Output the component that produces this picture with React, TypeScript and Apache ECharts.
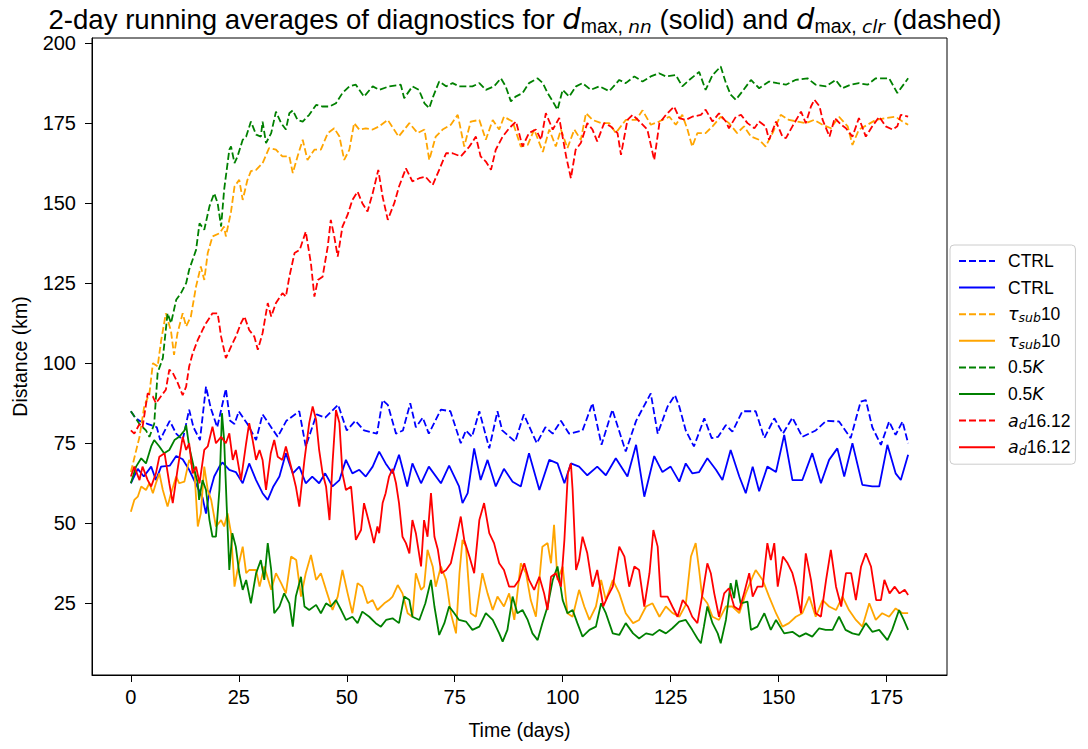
import React, { useEffect, useRef } from 'react';
import * as echarts from 'echarts';

const FONT = '"Liberation Sans", Arial, Helvetica, sans-serif';
const MATH = '"DejaVu Sans", sans-serif';

const xTicks = [0, 25, 50, 75, 100, 125, 150, 175];
const yTicks = [25, 50, 75, 100, 125, 150, 175, 200];

// CTRL, d_max,clr (dashed)
const ctrlClr: [number, number][] = [[0,85],[1,83],[2,82],[4,81],[6,80],[6.8,76],[7.5,78],[9,82],[10.5,78],[12,76],[13.5,85.5],[14.5,80],[16,76],[17.4,92.7],[18.5,86],[20,80],[22,92],[23,82],[24,81],[25,85],[27,81],[29,76],[30.5,84],[32,81],[34,77],[36,82],[39,85],[40.5,74],[43,84],[45,83],[48,87],[50,79],[52,82],[54,79],[57,78],[58.3,88.5],[59.5,87],[61.4,78],[63,79],[64.7,87.5],[66,80],[67.6,83],[69,78],[71.8,85.5],[74,85],[76.4,75],[77.6,79],[79,77],[80.7,85],[83,73.4],[84.9,85],[86,79],[89,75.5],[91,84],[94,75],[96,80],[97.7,78],[99.6,82],[101.5,78],[104.6,79],[106.9,87.5],[109,74.5],[111.5,85.5],[114.6,72.4],[117,82],[120.4,90.6],[122,78],[124.3,86.5],[126,90],[127,86.5],[128.5,79],[130.4,74],[132.8,82.8],[134.5,76.6],[136,77],[137.8,80.7],[139.3,78.6],[141.6,85],[144.7,85],[146.7,76.6],[149,82.8],[151,78],[153.2,83],[155.5,77],[158.6,79],[161,82],[164,81.8],[166.7,76.6],[169,88],[170.2,88.5],[171.7,80],[173.7,74.5],[175.6,81.8],[177.1,77.6],[178.7,81.8],[180,75]];

// CTRL, d_max,nn (solid)
const ctrlNn: [number, number][] = [[0,62.5],[1.6,67],[3,64.6],[4.7,67.7],[5.8,63.5],[7,67.7],[9,68],[10.5,71],[12,70],[13.5,66.7],[15,62.5],[16.6,58],[17.4,53],[18,58.3],[19.3,64.6],[20.5,67.7],[21.2,69],[22.8,66.7],[24.3,66],[25.9,62.5],[27.4,68.7],[29,63.5],[30.5,59.4],[31.7,57.3],[33,61.5],[34.4,64.6],[35.9,71.9],[37.5,65.6],[39,67.7],[40.5,62.5],[42,64.6],[43.6,62.5],[45,65.6],[46.7,61.5],[48.3,63.5],[49.8,69.8],[51.3,65.6],[52.9,66.7],[54.4,64.6],[56,67.7],[57.5,72.4],[59,68.7],[60.6,65.6],[62.1,71.4],[64,61.5],[65.2,68.7],[67.2,62.5],[69,67.7],[71.8,62.5],[73.7,68],[76,61.5],[76.8,56.3],[78,59.4],[79.5,73.4],[81,63.5],[82.6,69.8],[84.5,61.5],[86.4,67],[88.4,63],[90.3,61.5],[92.2,71.9],[94.6,60.4],[96.9,69.8],[98.8,68.7],[100.4,62.5],[101.9,68.7],[103.8,67.7],[105.7,65],[108,67.7],[110,65],[112.3,70.3],[115,64.6],[117,74.5],[118.9,58.3],[121.2,71],[123.1,66],[125,67.7],[127,63],[128.5,68.7],[130,65.6],[131.6,66],[133.5,70.3],[135.5,66.7],[137,63.5],[138.9,72.9],[140.9,64.6],[142.4,59.4],[144,67.7],[145.5,60],[147.4,67.7],[149.4,66],[151.3,77.6],[153.2,63.5],[155.5,63.5],[157.8,71.9],[159.8,62.5],[161.7,69.8],[163.6,73.4],[165.2,64.6],[167.1,75],[169.4,62],[171.7,61.5],[173.3,61.5],[175.2,74.5],[177.1,65.6],[178.3,63.5],[180,71.4]];

// tau_sub10, dashed
const tauClr: [number, number][] = [[0,66],[2,77],[3.1,86.5],[4.3,90.6],[5.1,100],[6.2,99],[7,107],[8.1,115.6],[9.3,110],[10,102.6],[10.8,109.4],[12,115.6],[12.8,111.5],[13.9,114.6],[15.1,124],[16.2,130.2],[17,126],[17.8,134.4],[18.9,139.6],[20.5,140.6],[21.6,142.7],[22,139.6],[23.2,147.4],[24,155.2],[25.1,157.3],[25.9,151],[27,157.3],[27.8,160],[29,160.4],[30.5,162.5],[32,167.2],[33.6,166.7],[35.1,164.6],[36.7,164.6],[37.5,159.4],[38.6,164.6],[39.8,169.8],[40.9,163.5],[42.5,166.7],[44,166.7],[45.6,171.9],[47.1,173.4],[48.3,170.8],[49.4,163.5],[50.6,166.7],[51.7,175],[52.9,173],[54.4,173.4],[56,173],[57.5,174],[59.5,176],[62,170.8],[64.5,175],[66.4,171.9],[68,173],[69.1,163.5],[70.6,170.8],[72.2,173],[74.1,174.5],[75.7,177.6],[77.2,167.7],[78.7,175.5],[80.7,176],[82.2,169.8],[83.8,176],[85.3,173],[86.4,177],[88.4,175.5],[90.3,167.7],[91.9,168.2],[93.4,173],[95.4,166],[96.9,173],[98.4,167.7],[99.6,173],[101.1,167.2],[102.7,173],[104.2,169.8],[105.4,178.1],[106.9,176],[108.9,175],[110.8,175],[112.3,171.9],[114.6,176],[117,176],[118.5,179],[120.4,174.5],[122.3,175.5],[124.7,177],[126.2,174.5],[127.7,177.6],[128.9,173],[130,167.7],[131.2,171.9],[133.1,171.9],[134.7,174],[136.6,177],[138.5,175],[140.4,171.9],[142,174],[143.6,170.8],[145.5,169.8],[147,167.7],[148.6,171.9],[150.5,177.6],[152.4,176],[154.4,175.5],[156.3,175],[158.2,176],[160.2,174.5],[162.1,173.4],[164,177],[166,174],[167.1,168.2],[168.6,173],[170.6,174.5],[172.5,176],[174.8,176.6],[177.1,177],[178.7,175.5],[180,174.5]];

// tau_sub10, solid
const tauNn: [number, number][] = [[0,53.6],[0.8,57.3],[1.6,58.3],[2.4,61.5],[3.5,60.4],[4.3,62.5],[5.1,59.4],[5.8,62.5],[6.6,65.6],[7.4,60.4],[8.5,55.2],[9.3,59.4],[10.5,64.6],[11.2,62.5],[12.4,63],[13.5,69.8],[14.7,66.7],[15.5,49],[16.2,53.1],[17,67.7],[17.8,60.4],[18.6,57.3],[19.7,49],[20.9,51],[21.6,49],[22.4,53.1],[23.2,46.9],[24,30.2],[24.7,35.4],[25.9,42.7],[26.7,34.4],[27.4,35.4],[29,35.4],[29.8,30.2],[30.9,36.5],[32.5,29.2],[33.6,34.4],[34.8,31.3],[35.9,28.1],[37.1,39.6],[38.3,38.5],[39.4,27.1],[40.5,34.4],[41.7,40.1],[42.9,32.3],[44,34.4],[45.2,29.2],[46.7,22.9],[47.9,27.1],[49,35.4],[50.2,28.1],[51.3,21.9],[52.5,31.3],[53.6,30.2],[54.8,25],[56,26],[57.1,22.9],[58.7,25],[59.8,26],[60.6,27.1],[61.8,30.7],[62.9,28.1],[64.1,21.9],[65.2,20.8],[66,34.4],[67.2,29.2],[67.9,30.2],[68.7,41.7],[69.9,36.5],[70.6,30.2],[71.8,36.5],[73,32.3],[74.1,21.9],[75.3,15.6],[76.1,34.4],[76.8,44.8],[77.6,42.7],[78.7,21.9],[79.9,20.8],[81.4,34.4],[82.6,28.1],[83.8,22.9],[84.9,27.1],[86.4,24],[87.6,28.1],[88.8,19.8],[90.3,37.5],[91.5,34.4],[92.6,26],[93.8,20.8],[95.3,42.7],[96.5,43.8],[97.3,37.5],[98,49.5],[98.8,32.3],[100,36.5],[101.1,21.9],[102.3,20.8],[103.8,29.2],[105,24],[106.2,19.8],[107.7,24],[108.9,32.3],[110,26],[111.6,32.3],[113.1,28.1],[114.6,21.9],[116.3,18.8],[117.7,19.8],[119.3,24],[120.8,25],[122.4,20.8],[123.9,24],[125.4,22],[127,20.8],[128.5,24.5],[129.7,39.6],[130.8,43.8],[131.6,35.4],[132.3,27.1],[133.5,25],[134.7,20.8],[136.2,19.8],[137.8,24],[139.3,24],[140.9,21.9],[142.4,28.1],[144,33.3],[144.7,35.4],[146.3,32.3],[147.8,27.1],[149.4,21.9],[150.9,17.7],[152.4,18.8],[154,20.8],[155.5,21.9],[157.1,27.1],[158.6,20.8],[160.2,26],[161.7,24],[163.3,22.9],[164.8,27.1],[166.3,22.9],[167.9,19.8],[169.4,17.7],[171,25],[172.5,19.8],[174,21.9],[175.6,20.8],[177.1,23.4],[178.7,21.9],[180,21.9]];

// 0.5K, dashed
const halfKClr: [number, number][] = [[0,85],[2,81],[3.5,79],[4.3,77],[5.4,81],[6.2,97],[7.4,101.6],[8.5,115.6],[9.3,112.5],[10.5,119.8],[11.6,121.9],[12.8,125],[13.5,129.2],[15.1,135.4],[15.9,143.7],[17,141.7],[18.2,149],[19.3,153.1],[20.1,150],[20.9,142.7],[21.6,154.2],[22.8,166.7],[23.2,167.7],[24,162.5],[24.7,164.6],[25.9,169.8],[26.7,170.8],[27.8,175.5],[29,171.4],[30.1,170.8],[30.5,175.5],[31.3,168.8],[32.5,171.9],[33.6,178.6],[34.8,175],[35.9,173],[36.7,178.1],[37.5,179],[38.6,176],[39.8,175.5],[41.3,177.6],[42.9,180.7],[44.4,180.2],[46,180.2],[47.5,181.2],[49,184.4],[50.6,186.5],[52.1,187],[54,183.3],[56,186.5],[57.5,185.4],[59.8,186.5],[62.5,187],[63.3,182.8],[65.2,186.5],[66.7,185.4],[68,181.2],[69.1,179.7],[70,183.3],[71.4,188],[73,186.5],[74.5,187.5],[76,186.5],[77.6,186.5],[79.1,186.5],[80.7,187.5],[82.2,185.4],[84.1,186.5],[85.7,189],[86.8,186.5],[88,181.8],[89.1,183.3],[90.7,184.4],[92.2,187.5],[94.2,189],[95.4,187.5],[96.5,184.4],[97.7,181.8],[98.8,179.2],[100,185.4],[101.5,183.3],[103.1,186.5],[104.6,187.5],[106.5,185.4],[108.5,186.5],[110.8,185],[113.1,188.5],[114.6,187.5],[116.6,189.6],[118.5,188],[120.4,189.6],[122.3,190.6],[123.9,189.6],[126.2,190],[127.7,186.5],[129.3,188.5],[131.6,191],[133.1,185.4],[134.7,190],[136.6,192.7],[137.8,187.5],[138.9,183.9],[140.1,182.3],[141.6,184.9],[143.6,188.5],[145.5,185.9],[147.8,188],[149.7,187.5],[151.7,187],[153.9,188.5],[156.7,189],[158.6,187],[161,186.5],[163.2,188.5],[164.7,185.9],[166.7,187],[168.6,187.5],[170.6,187],[172.5,189],[175.6,189],[177.5,184.4],[180,189]];

// 0.5K, solid
const halfKNn: [number, number][] = [[0,62.5],[1.2,67.7],[2.4,70.3],[3.5,68.7],[4.7,74],[5.4,76],[6.6,74],[7.7,71.9],[8.9,72.9],[10.1,76],[11.2,77],[12.4,79],[12.8,80.7],[13.5,74],[14.7,66.7],[15.5,62.5],[15.8,57.3],[16.6,63.5],[17.4,60.4],[18.2,51],[18.9,45.8],[19.7,45.8],[20.5,60.4],[21.1,84.4],[21.6,76],[22.2,55.2],[22.8,35.4],[23.5,46.9],[24.3,42.7],[25.1,34.4],[25.9,29.2],[26.7,32.3],[27.8,25],[29,34.4],[30.1,38.5],[30.9,32.3],[31.7,43.8],[32.5,35.4],[33.2,21.9],[34.4,24],[35.5,28.1],[36.7,25],[37.5,17.7],[38.2,27.1],[39.4,33.3],[40.2,24],[41.3,22.9],[42.9,24.5],[44,21.9],[45.2,25],[46.3,24],[47.5,26],[48.7,22.9],[49.8,19.8],[51.3,20.8],[52.5,18.8],[53.6,22.4],[55.2,20.8],[56.7,18.8],[57.9,17.7],[59.1,19.8],[60.6,20.3],[62.1,18.8],[63.3,27.1],[64.5,26],[65.2,20.8],[66.8,19.8],[68.2,25],[69.5,32.3],[70.3,24],[71.4,15.1],[72.6,18.8],[73.7,24],[74.9,21.9],[76,19.8],[77.6,19.3],[79.1,16.7],[80.7,17.7],[82.2,21.9],[83.8,19.8],[85.3,15.6],[86.1,13],[87.2,16.7],[88.4,27.1],[89.5,21.9],[90.7,22.9],[91.9,19.8],[93,15.6],[94.2,13.5],[95.3,18.8],[96.5,24],[97.7,32.3],[98.8,36.5],[100,26],[101.1,21.9],[102.3,22.9],[103.4,18.8],[104.6,14.6],[106.2,16.7],[107.7,17.7],[108.9,25],[110,21.9],[111.6,15.6],[113.1,15.1],[114.6,18.8],[116.3,15.6],[117.7,14],[119.3,15.6],[120.8,15.1],[122.4,16.7],[123.9,15.6],[125.4,17.2],[127,19.3],[128.5,19.8],[130,16.7],[131.2,14],[132,12.5],[132.7,17.7],[133.5,24],[134.7,18.8],[135.9,15.6],[136.6,12.5],[137.8,19.8],[138.9,31.3],[139.7,26.6],[140.2,32.3],[141.2,25],[142.8,25.5],[143.6,16.7],[145.1,17.7],[146.7,21.9],[148.2,16.7],[149.4,19.8],[151.3,15.6],[153.2,16.1],[154.8,14.6],[156.3,15.6],[157.8,14.6],[159.4,17.2],[160.9,16.7],[162.5,16.7],[164,20.8],[165.5,16.7],[167.1,15.6],[168.6,15.1],[170.2,18.8],[171.7,16.1],[173.3,16.7],[175.2,13.5],[176.3,16.7],[177.9,22.9],[179,19.8],[180,16.7]];

// a_d16.12, dashed
const adClr: [number, number][] = [[0,79],[0.8,78],[2,81],[2.7,80],[3.9,90.6],[5.1,89.6],[5.8,87.5],[6.6,89],[8.1,91.7],[8.9,98],[9.7,97],[10.8,94],[12,90],[12.8,92.7],[13.5,99],[14.3,103],[15.5,107.3],[16.6,110.4],[17.4,112.5],[18.9,115.6],[20.1,115.6],[20.9,108.3],[22,101.6],[23.2,105.2],[24.3,108.3],[25.5,112.5],[26.3,114.6],[27.4,110.4],[28.6,108.3],[29.4,104.2],[30.5,109.4],[31.7,118.8],[32.5,114.6],[33.6,118.8],[35.1,121.9],[35.9,120.8],[36.7,127],[37.9,134.4],[39.1,135.4],[40.5,141.1],[41.7,131.2],[42.5,120.8],[43.3,126],[44.4,127],[45.6,136.5],[46.3,144.8],[47.1,139.6],[47.9,133.3],[49,142.7],[50.2,146.4],[51.3,151],[52.5,153.6],[53.6,150],[54.8,147.4],[56,153.1],[57.3,160.4],[58.3,152],[59.5,144.8],[61,150],[62.1,155.2],[63.7,160.9],[65.2,156.8],[66.8,157.8],[68.2,158.3],[69.9,155.7],[71.4,160.4],[73,165.6],[74.5,165.6],[76.4,164.6],[78.4,167.7],[79.9,170.8],[81,164.6],[82.2,163],[83.4,160.4],[84.5,166.7],[86.1,170.8],[87.6,173.4],[89.2,175.5],[90.7,167.7],[92.2,171.9],[93.8,173],[95,169.8],[96.1,178.1],[97.7,173],[99.2,176.6],[100.8,164.6],[101.9,157.8],[103,166.7],[104.2,168.8],[105.7,175],[106.9,173],[108,169.3],[109.6,175],[111.1,174],[112.7,171.9],[113.5,165.1],[115,176],[116.2,177.6],[117.8,175.5],[119.6,173],[121.2,163.5],[122.4,175],[123.9,177.6],[125.8,180.2],[127,176.6],[128.5,176],[130,177],[132,177.6],[133.1,179.2],[134.7,175.5],[136.2,178.1],[137.8,175.5],[138.5,173.4],[140.1,177],[141.3,177.6],[142.8,175],[144.4,173.4],[145.5,175.5],[147,174],[147.8,169.8],[149.4,175.5],[150.9,170.8],[151.7,170.3],[153.2,174],[155.2,178.6],[156.3,175],[157.5,180.2],[158.3,182.3],[159.5,180.2],[160.2,176],[161.8,170.8],[163,176.6],[164.5,174.5],[165.6,173.4],[167.1,170.8],[168.6,176.6],[170.2,170.8],[171.7,174],[173.3,177],[174.8,174],[176.4,173],[177.5,174],[178.3,177.6],[180,177]];

// a_d16.12, solid
const adNn: [number, number][] = [[0,64.6],[0.8,67.7],[2,63.5],[2.7,67.7],[3.9,63.5],[4.7,61.5],[5.8,65.6],[6.6,70.8],[7.8,71.9],[8.9,62.5],[9.7,56.3],[10.8,66.7],[12,77],[12.8,72.9],[13.5,75],[14.3,65.6],[15.1,67.7],[15.9,62.5],[17,72.9],[17.8,74],[18.9,80.2],[19.7,75],[20.9,77],[22,75],[22.8,78.1],[23.6,69.8],[24.3,72.9],[25.5,63.5],[26.7,75],[27.4,81.3],[28.2,76],[29,69.8],[29.8,72.9],[30.5,69.8],[31.3,60.4],[32.4,71.9],[33.2,76],[34,70.8],[35.1,69.8],[35.9,74],[37.1,67.7],[38.2,61.5],[39,55.2],[40.2,69.8],[41.3,81.3],[42.1,86.5],[42.9,82.3],[43.6,72.9],[44.4,65.6],[45.2,61.5],[46,51],[46.7,68.7],[47.5,85.4],[48.3,81.3],[49,65.6],[49.8,60.4],[51,61.5],[52.1,44.8],[53.3,47.9],[54,56.3],[54.8,52.1],[55.6,47.9],[56.3,43.8],[57.1,49],[57.5,46.9],[58.3,56.3],[59,59.4],[59.8,64.6],[60.6,67],[61.4,62.5],[62.1,56.3],[62.9,45.8],[63.7,43.8],[64.5,40.6],[65.2,51],[66,46.9],[67.2,36.5],[67.9,51],[68.7,45.8],[69.5,59.4],[70.3,45.8],[71.1,41.7],[71.9,34.4],[73,35.4],[74.1,37.5],[75.3,44.8],[76.4,52.1],[77.2,44.8],[78.4,39.6],[79.5,34.4],[80.7,51],[81.8,56.3],[83,46.9],[84.1,43.8],[85.3,37.5],[86.4,35.4],[87.6,30.2],[88.8,30.2],[89.9,32.3],[91.1,37.5],[92.2,32.3],[93.4,29.2],[94.6,33.3],[95.7,28.1],[96.5,22.9],[97.3,33.3],[98.4,34.4],[99.6,30.2],[100.4,44.8],[101.2,65.6],[101.9,68.7],[102.3,60.4],[103.1,35.4],[103.8,38.5],[104.6,45.8],[105.7,40.6],[106.9,30.2],[108,35.4],[109.4,24],[110.4,27.1],[111.6,30.2],[113.1,42.7],[114.3,39.6],[115.4,30.2],[116.6,36.5],[117.7,35.4],[118.9,24],[120.1,34.4],[121,47.9],[122,42.7],[122.7,27.1],[124.3,27.1],[125.4,24],[126.6,20.8],[127.8,26],[129,24],[130,20.8],[131.2,18.8],[132.4,28.1],[133.5,37.5],[134.3,34.4],[135.1,28.1],[136.2,20.8],[137.4,28.1],[138.5,29.7],[139.7,24],[140.9,22.9],[142,28.1],[143.2,34.4],[144,27.1],[145.1,30.2],[146.3,30.2],[147.4,43.8],[148.2,38.5],[149,43.8],[149.8,30.2],[151,39.6],[152.1,37.5],[153.2,34.4],[154,30.2],[155.2,21.9],[156.3,40.6],[157.5,32.3],[158.6,21.9],[159.8,20.8],[161,32.3],[162.1,41.7],[163.3,30.2],[164.5,24],[165.6,34.4],[166.8,34.4],[167.9,26],[169.1,36.5],[170.2,40.6],[171.4,36.5],[172.6,26],[173.7,26],[174.5,32.3],[175.7,28.1],[176.9,30.2],[178,28.1],[179.2,29.2],[180,27.6]];

const seriesDefs = [
  { name: 'ctrl_clr', label: 'CTRL', color: '#0000ff', dashed: true, data: ctrlClr },
  { name: 'ctrl_nn', label: 'CTRL', color: '#0000ff', dashed: false, data: ctrlNn },
  { name: 'tau_clr', label: '{it|τ}{sub|sub}10', color: '#ffa500', dashed: true, data: tauClr },
  { name: 'tau_nn', label: '{it|τ}{sub|sub}10', color: '#ffa500', dashed: false, data: tauNn },
  { name: 'k_clr', label: '0.5{it|K}', color: '#008000', dashed: true, data: halfKClr },
  { name: 'k_nn', label: '0.5{it|K}', color: '#008000', dashed: false, data: halfKNn },
  { name: 'ad_clr', label: '{it|a}{sub|d}16.12', color: '#ff0000', dashed: true, data: adClr },
  { name: 'ad_nn', label: '{it|a}{sub|d}16.12', color: '#ff0000', dashed: false, data: adNn },
];

export default function App() {
  const ref = useRef<HTMLDivElement>(null);
  useEffect(() => {
    if (!ref.current) return;
    const chart = echarts.init(ref.current, undefined, { renderer: 'svg' });
    const labelMap: Record<string, string> = {};
    seriesDefs.forEach((s) => (labelMap[s.name] = s.label));
    const option: any = {
      animation: false,
      backgroundColor: '#ffffff',
      title: {
        text: '2-day running averages of diagnostics for {it|d}{sub|max, }{subit|nn} (solid) and {it|d}{sub|max, }{subit|clr} (dashed)',
        left: 520,
        top: -3,
        textAlign: 'center',
        textStyle: {
          fontFamily: FONT,
          fontSize: 27.6,
          fontWeight: 'normal',
          color: '#000',
          lineHeight: 34,
          rich: {
            it: { fontFamily: MATH, fontStyle: 'italic', fontSize: 29, lineHeight: 34, color: '#000' },
            sub: { fontFamily: FONT, fontSize: 19.5, lineHeight: 19, verticalAlign: 'bottom', color: '#000' },
            subit: { fontFamily: MATH, fontStyle: 'italic', fontSize: 18.5, lineHeight: 19, verticalAlign: 'bottom', color: '#000' },
          },
        },
      },
      legend: {
        orient: 'vertical',
        left: 950,
        top: 245,
        padding: [6, 5, 7, 8],
        itemWidth: 36,
        itemHeight: 14,
        itemGap: 6.6,
        borderColor: '#cccccc',
        borderWidth: 1,
        borderRadius: 4,
        backgroundColor: '#ffffff',
        itemStyle: { opacity: 0 },
        data: seriesDefs.map((s) => s.name),
        formatter: (name: string) => labelMap[name],
        textStyle: {
          fontFamily: FONT,
          fontSize: 17.5,
          color: '#000',
          lineHeight: 20,
          padding: [0, 0, 0, 8],
          rich: {
            it: { fontFamily: MATH, fontStyle: 'italic', fontSize: 17.5, lineHeight: 20, color: '#000' },
            sub: { fontFamily: MATH, fontStyle: 'italic', fontSize: 12.5, lineHeight: 12, verticalAlign: 'bottom', color: '#000' },
          },
        },
      },
      grid: {
        left: 92,
        right: 141,
        top: 38,
        bottom: 74,
        show: true,
        borderColor: '#000',
        borderWidth: 1,
        backgroundColor: 'transparent',
      },
      xAxis: {
        type: 'value',
        min: -9,
        max: 189,
        name: 'Time (days)',
        nameLocation: 'middle',
        nameGap: 45,
        nameTextStyle: { fontFamily: FONT, fontSize: 19.5, color: '#000' },
        axisLine: { show: true, onZero: false, lineStyle: { color: '#000', width: 1 } },
        axisTick: { show: true, length: 7, customValues: xTicks, lineStyle: { color: '#000' } },
        axisLabel: { customValues: xTicks, fontFamily: FONT, fontSize: 20, color: '#000', margin: 12 },
        splitLine: { show: false },
      },
      yAxis: {
        type: 'value',
        min: 2.6,
        max: 201.6,
        name: 'Distance (km)',
        nameLocation: 'middle',
        nameGap: 62,
        nameRotate: 90,
        nameTextStyle: { fontFamily: FONT, fontSize: 19.5, color: '#000' },
        axisLine: { show: true, onZero: false, lineStyle: { color: '#000', width: 1 } },
        axisTick: { show: true, length: 7, customValues: yTicks, lineStyle: { color: '#000' } },
        axisLabel: { customValues: yTicks, fontFamily: FONT, fontSize: 20, color: '#000', margin: 16 },
        splitLine: { show: false },
      },
      series: seriesDefs.map((s) => ({
        name: s.name,
        type: 'line',
        data: s.data,
        showSymbol: false,
        symbol: 'none',
        color: s.color,
        lineStyle: { color: s.color, width: 1.8, type: s.dashed ? [7, 3] : 'solid' },
        emphasis: { disabled: true },
      })),
    };
    chart.setOption(option);
    return () => chart.dispose();
  }, []);
  return <div ref={ref} style={{ position: 'absolute', left: 0, top: 0, width: 1088, height: 749 }} />;
}
